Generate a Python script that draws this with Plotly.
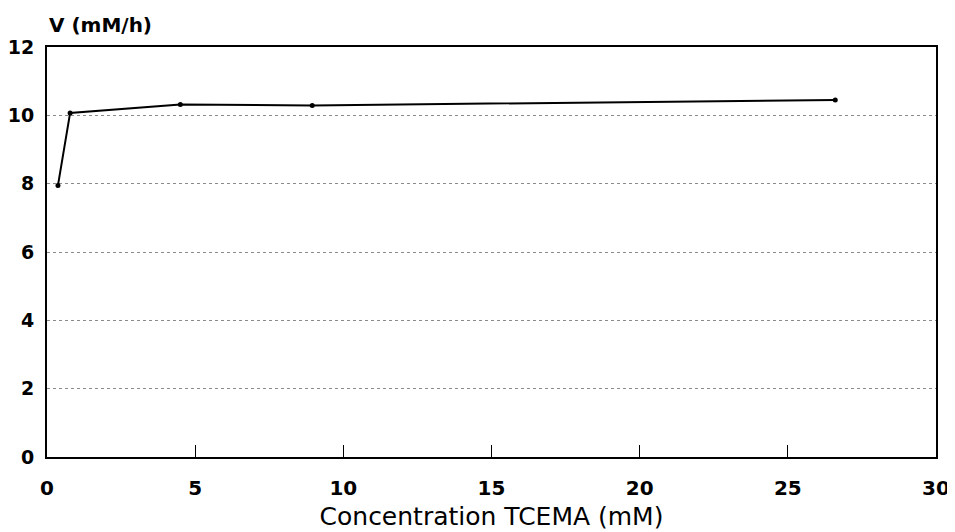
import plotly.graph_objects as go

conc = [0.37, 0.78, 4.5, 8.95, 26.6]
rate = [7.95, 10.07, 10.32, 10.29, 10.45]
x_ticks = [0, 5, 10, 15, 20, 25, 30]
y_ticks = [0, 2, 4, 6, 8, 10, 12]

fig = go.Figure()
fig.add_trace(go.Scatter(
    x=conc, y=rate, mode="lines+markers",
    line=dict(color="black", width=2),
    marker=dict(color="black", size=5),
    showlegend=False,
))

fam = "DejaVu Sans, Arial, sans-serif"

# the page body has an 8px margin, so the figure is shrunk/shifted by 8px
fig.update_layout(
    width=947, height=524,
    margin=dict(l=39, r=19, t=39, b=75),
    paper_bgcolor="white", plot_bgcolor="white",
    font=dict(family=fam, color="black"),
    xaxis=dict(
        range=[0, 30], tickvals=x_ticks, ticktext=[str(v) for v in x_ticks],
        ticks="inside", ticklen=12, tickwidth=1.2, tickcolor="black",
        showline=True, linecolor="black", linewidth=2, mirror=True,
        showgrid=False, zeroline=False, automargin=False,
        tickfont=dict(size=20, family=fam, color="black", weight="bold"),
        ticklabelstandoff=12,
        title=dict(text="Concentration TCEMA (mM)",
                   font=dict(size=25, family=fam, color="black"), standoff=8),
    ),
    yaxis=dict(
        range=[0, 12], tickvals=y_ticks, ticktext=[str(v) for v in y_ticks],
        ticks="", showline=True, linecolor="black", linewidth=2, mirror=True,
        showgrid=True, gridcolor="#8a8a8a", griddash="dot", gridwidth=1,
        zeroline=False, automargin=False,
        tickfont=dict(size=19, family=fam, color="black", weight="bold"),
        ticklabelstandoff=7,
    ),
    annotations=[dict(
        text="V (mM/h)", xref="paper", yref="paper", x=0.0, y=1.02,
        xanchor="left", yanchor="bottom", showarrow=False,
        font=dict(size=20, family=fam, color="black", weight="bold"),
    )],
)

fig.write_html("out.html")
